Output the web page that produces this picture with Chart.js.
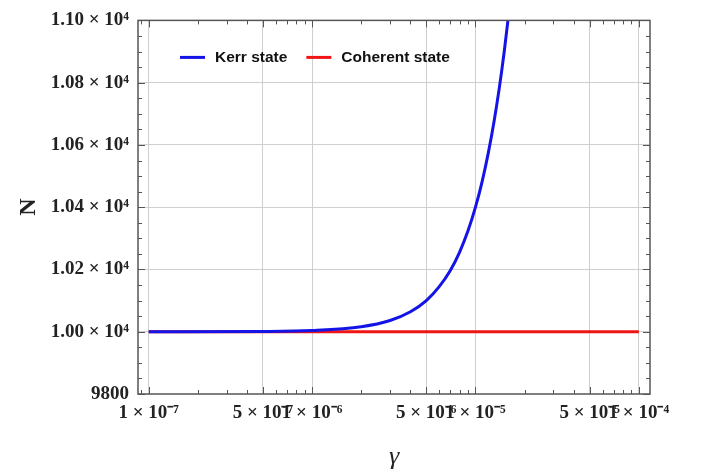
<!DOCTYPE html>
<html lang="en">
<head>
<meta charset="UTF-8">
<title>N versus gamma</title>
<script src="https://cdn.jsdelivr.net/npm/chart.js"></script>
<style>
  html, body { margin: 0; padding: 0; background: #fff; }
</style>
</head>
<body>
<canvas id="chart" width="704" height="475"></canvas>
<script>
// values
const gammaKerr = [1e-7, 5e-7, 1e-6, 2e-6, 3e-6, 4e-6, 5e-6, 6e-6, 7e-6, 8e-6, 9e-6, 1e-5, 1.1e-5, 1.2e-5, 1.3e-5, 1.4e-5, 1.5e-5, 1.6e-5, 1.7e-5];
const nKerr = [10000, 10001, 10004, 10016, 10036, 10064, 10100, 10145, 10196, 10256, 10324, 10400, 10484, 10576, 10676, 10784, 10900, 11024, 11156];
const gammaCoherent = [1e-7, 1e-4];
const nCoherent = [10000, 10000];

const xMinorTicks = [9e-8,
  1e-7, 2e-7, 3e-7, 4e-7, 5e-7, 6e-7, 7e-7, 8e-7, 9e-7,
  1e-6, 2e-6, 3e-6, 4e-6, 5e-6, 6e-6, 7e-6, 8e-6, 9e-6,
  1e-5, 2e-5, 3e-5, 4e-5, 5e-5, 6e-5, 7e-5, 8e-5, 9e-5, 1e-4];
const xMajorTicks = [1e-7, 5e-7, 1e-6, 5e-6, 1e-5, 5e-5, 1e-4];
const xLabels = ['1 \u00d7 10\u207b\u2077', '5 \u00d7 10\u207b\u2077', '1 \u00d7 10\u207b\u2076', '5 \u00d7 10\u207b\u2076',
  '1 \u00d7 10\u207b\u2075', '5 \u00d7 10\u207b\u2075', '1 \u00d7 10\u207b\u2074'];
const yMajorTicks = [9800, 10000, 10200, 10400, 10600, 10800, 11000];
const yLabels = ['9800', '1.00 \u00d7 10\u2074', '1.02 \u00d7 10\u2074', '1.04 \u00d7 10\u2074', '1.06 \u00d7 10\u2074', '1.08 \u00d7 10\u2074', '1.10 \u00d7 10\u2074'];
const yStep = 50;

const tickFont = { family: 'Liberation Serif', size: 19, weight: 'bold' };
const near = (a, b) => Math.abs(a - b) <= Math.abs(b) * 1e-6;
const majorIndexX = v => xMajorTicks.findIndex(t => near(v, t));
const majorIndexY = v => yMajorTicks.findIndex(t => near(v, t));

// frame with inward ticks on all four sides, like the original
const frameTicks = {
  id: 'frameTicks',
  afterDatasetsDraw(chart) {
    const { ctx, chartArea: a, scales: { x, y } } = chart;
    ctx.save();
    ctx.strokeStyle = '#555';
    ctx.lineWidth = 1;
    ctx.beginPath();
    x.ticks.forEach(t => {
      const px = Math.round(x.getPixelForValue(t.value)) + 0.5;
      const len = majorIndexX(t.value) >= 0 ? 7 : 4;
      ctx.moveTo(px, a.bottom); ctx.lineTo(px, a.bottom - len);
      ctx.moveTo(px, a.top); ctx.lineTo(px, a.top + len);
    });
    y.ticks.forEach(t => {
      const py = Math.round(y.getPixelForValue(t.value)) + 0.5;
      const len = majorIndexY(t.value) >= 0 ? 7 : 4;
      ctx.moveTo(a.left, py); ctx.lineTo(a.left + len, py);
      ctx.moveTo(a.right, py); ctx.lineTo(a.right - len, py);
    });
    ctx.stroke();
    ctx.lineWidth = 1.5;
    ctx.strokeRect(a.left, a.top, a.right - a.left, a.bottom - a.top);
    ctx.restore();
  }
};

// legend drawn inside the plot, top left
const innerLegend = {
  id: 'innerLegend',
  afterDraw(chart) {
    const { ctx, chartArea: a } = chart;
    ctx.save();
    ctx.font = 'bold 15.5px "Liberation Sans", Arial, sans-serif';
    ctx.textBaseline = 'middle';
    let cx = a.left + 42;
    const cy = a.top + 37;
    chart.data.datasets.forEach(ds => {
      ctx.strokeStyle = ds.borderColor;
      ctx.lineWidth = 3;
      ctx.beginPath();
      ctx.moveTo(cx, cy); ctx.lineTo(cx + 25, cy);
      ctx.stroke();
      cx += 35;
      ctx.fillStyle = '#111';
      ctx.fillText(ds.label, cx, cy);
      cx += ctx.measureText(ds.label).width + 19;
    });
    ctx.restore();
  }
};

const ctx = document.getElementById('chart').getContext('2d');
new Chart(ctx, {
  type: 'line',
  data: {
    datasets: [
      {
        label: 'Kerr state',
        data: gammaKerr.map((g, i) => ({ x: g, y: nKerr[i] })),
        borderColor: '#1414e6',
        borderWidth: 3,
        pointRadius: 0,
        cubicInterpolationMode: 'monotone',
        clip: 0
      },
      {
        label: 'Coherent state',
        data: gammaCoherent.map((g, i) => ({ x: g, y: nCoherent[i] })),
        borderColor: '#f01414',
        borderWidth: 3,
        pointRadius: 0,
        clip: 0
      }
    ]
  },
  options: {
    responsive: false,
    animation: false,
    layout: { padding: { top: 17, right: 54, left: 0, bottom: 0 } },
    plugins: { legend: { display: false }, tooltip: { enabled: false } },
    scales: {
      x: {
        type: 'logarithmic',
        min: 8.6e-8,
        max: 1.17e-4,
        afterBuildTicks: s => { s.ticks = xMinorTicks.map(v => ({ value: v })); },
        afterFit: s => { s.height = 81; },
        border: { display: false },
        grid: {
          drawTicks: false,
          color: c => (c.tick && majorIndexX(c.tick.value) >= 0) ? '#cfcfcf' : 'rgba(0,0,0,0)'
        },
        ticks: {
          autoSkip: false,
          maxRotation: 0,
          padding: 8,
          color: '#222',
          font: tickFont,
          callback: v => { const i = majorIndexX(v); return i < 0 ? '' : xLabels[i]; }
        },
        title: {
          display: true,
          text: '\u03b3',
          color: '#222',
          font: { family: 'Liberation Serif', size: 26, style: 'italic' },
          padding: { top: 0, bottom: 2 }
        }
      },
      y: {
        min: 9800,
        max: 11000,
        afterBuildTicks: s => {
          const t = [];
          for (let v = 9800; v <= 11000; v += yStep) t.push({ value: v });
          s.ticks = t;
        },
        afterFit: s => { s.width = 138; },
        border: { display: false },
        grid: {
          drawTicks: false,
          color: c => (c.tick && majorIndexY(c.tick.value) > 0 && c.tick.value < 11000) ? '#cfcfcf' : 'rgba(0,0,0,0)'
        },
        ticks: {
          autoSkip: false,
          padding: 9,
          color: '#222',
          font: tickFont,
          callback: v => { const i = majorIndexY(v); return i < 0 ? '' : yLabels[i]; }
        },
        title: {
          display: true,
          text: 'N',
          color: '#222',
          font: { family: 'Liberation Serif', size: 24, weight: 'bold' },
          padding: { top: 14, bottom: 0 }
        }
      }
    }
  },
  plugins: [frameTicks, innerLegend]
});
</script>
</body>
</html>
